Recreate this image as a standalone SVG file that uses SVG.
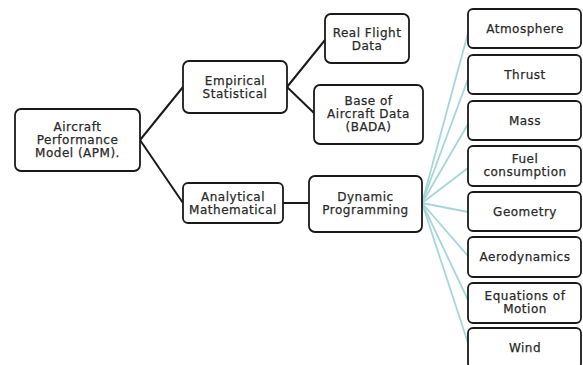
<svg xmlns="http://www.w3.org/2000/svg" width="583" height="365" viewBox="0 0 583 365">
<style>
.box{fill:#fff;stroke:#1a1a1a;stroke-width:1.8}
.t{font-family:"DejaVu Sans",sans-serif;font-size:12px;letter-spacing:0.5px;fill:#2a2a2a;stroke:#2a2a2a;stroke-width:0.25;text-anchor:middle}
.k{stroke:#1a1a1a;stroke-width:2;fill:none}
.c{stroke:#a6d6da;stroke-width:1.8;fill:none}
</style>
<rect width="583" height="365" fill="#fff"/>
<g id="connectors">
<line class="k" x1="140" y1="140" x2="183" y2="87"/>
<line class="k" x1="140" y1="140" x2="183" y2="203"/>
<line class="k" x1="287" y1="87" x2="325" y2="40"/>
<line class="k" x1="287" y1="87" x2="314" y2="113"/>
<line class="k" x1="283" y1="203" x2="309" y2="203"/>
<line class="c" x1="422" y1="203" x2="468" y2="33"/>
<line class="c" x1="422" y1="203" x2="468" y2="79"/>
<line class="c" x1="422" y1="203" x2="468" y2="124"/>
<line class="c" x1="422" y1="203" x2="468" y2="168"/>
<line class="c" x1="422" y1="203" x2="468" y2="212"/>
<line class="c" x1="422" y1="203" x2="468" y2="256"/>
<line class="c" x1="422" y1="203" x2="468" y2="300"/>
<line class="c" x1="422" y1="203" x2="468" y2="343"/>
</g>
<g id="apm"><rect class="box" x="15" y="109" width="125" height="62" rx="6"/>
<text class="t" x="77.5" y="131">Aircraft</text><text class="t" x="77.5" y="144">Performance</text><text class="t" x="77.5" y="157">Model (APM).</text></g>
<g id="empirical"><rect class="box" x="183" y="61" width="104" height="52" rx="6"/>
<text class="t" x="235" y="84.5">Empirical</text><text class="t" x="235" y="97.5">Statistical</text></g>
<g id="analytical"><rect class="box" x="183" y="183" width="100" height="40" rx="5"/>
<text class="t" x="233" y="200.5">Analytical</text><text class="t" x="233" y="213.5">Mathematical</text></g>
<g id="realflight"><rect class="box" x="325" y="14" width="84" height="49" rx="6"/>
<text class="t" x="367" y="36.5">Real Flight</text><text class="t" x="367" y="49.5">Data</text></g>
<g id="bada"><rect class="box" x="314" y="85" width="109" height="59" rx="6"/>
<text class="t" x="368.5" y="105">Base of</text><text class="t" x="368.5" y="118">Aircraft Data</text><text class="t" x="368.5" y="131">(BADA)</text></g>
<g id="dynamic"><rect class="box" x="309" y="176" width="113" height="56" rx="6"/>
<text class="t" x="365.5" y="201">Dynamic</text><text class="t" x="365.5" y="214">Programming</text></g>
<g id="atmosphere"><rect class="box" x="468" y="9" width="113" height="39" rx="5"/><text class="t" x="525" y="32.5">Atmosphere</text></g>
<g id="thrust"><rect class="box" x="468" y="55" width="113" height="39" rx="5"/><text class="t" x="525" y="78.5">Thrust</text></g>
<g id="mass"><rect class="box" x="468" y="101" width="113" height="39" rx="5"/><text class="t" x="525" y="124.5">Mass</text></g>
<g id="fuel"><rect class="box" x="468" y="146" width="113" height="40" rx="5"/><text class="t" x="525" y="163">Fuel</text><text class="t" x="525" y="176">consumption</text></g>
<g id="geometry"><rect class="box" x="468" y="192" width="113" height="39" rx="5"/><text class="t" x="525" y="215.5">Geometry</text></g>
<g id="aerodynamics"><rect class="box" x="468" y="237" width="113" height="40" rx="5"/><text class="t" x="525" y="261">Aerodynamics</text></g>
<g id="equations"><rect class="box" x="468" y="283" width="113" height="40" rx="5"/><text class="t" x="525" y="300">Equations of</text><text class="t" x="525" y="313">Motion</text></g>
<g id="wind"><rect class="box" x="468" y="328" width="113" height="40" rx="5"/><text class="t" x="525" y="352">Wind</text></g>
</svg>
